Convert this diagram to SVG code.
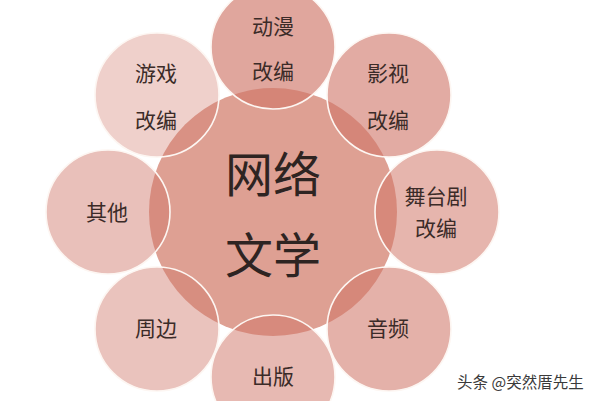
<svg xmlns="http://www.w3.org/2000/svg" width="590" height="401" viewBox="0 0 590 401">
  <style>
    .sat { fill: #d07668; stroke: #fdf6f2; stroke-width: 1.6; }
    .hub { fill: #dea093; }
    .lbl { font-family: "Noto Sans CJK SC", "Noto Sans", sans-serif; font-size: 21px; fill: #3b2b28; text-anchor: middle; }
    .big { font-family: "Noto Sans CJK SC", "Noto Sans", sans-serif; font-size: 48px; fill: #2e2422; text-anchor: middle; }
    .wm { font-family: "Noto Sans CJK SC", "Noto Sans", sans-serif; font-size: 15.5px; fill: #3a3a3a; }
  </style>
  <rect width="590" height="401" fill="#ffffff"/>

  <g id="center">
    <circle class="hub" cx="273" cy="212" r="124"/>
    <text class="big" x="273" y="192">网络</text>
    <text class="big" x="273" y="273">文学</text>
  </g>

  <g id="connectors"></g>

  <g id="dongman">
    <circle class="sat" cx="273" cy="47" r="62" fill-opacity="0.65"/>
    <text class="lbl" x="273" y="34">动漫</text>
    <text class="lbl" x="273" y="79">改编</text>
  </g>
  <g id="yingshi">
    <circle class="sat" cx="389" cy="95" r="62" fill-opacity="0.61"/>
    <text class="lbl" x="388" y="81">影视</text>
    <text class="lbl" x="388" y="128">改编</text>
  </g>
  <g id="wutaiju">
    <circle class="sat" cx="437" cy="212" r="62" fill-opacity="0.54"/>
    <text class="lbl" x="436" y="204">舞台剧</text>
    <text class="lbl" x="436" y="236">改编</text>
  </g>
  <g id="yinpin">
    <circle class="sat" cx="389" cy="329" r="62" fill-opacity="0.57"/>
    <text class="lbl" x="388" y="336">音频</text>
  </g>
  <g id="chuban">
    <circle class="sat" cx="273" cy="377" r="62" fill-opacity="0.51"/>
    <text class="lbl" x="273" y="384">出版</text>
  </g>
  <g id="zhoubian">
    <circle class="sat" cx="157" cy="329" r="62" fill-opacity="0.44"/>
    <text class="lbl" x="156" y="336">周边</text>
  </g>
  <g id="qita">
    <circle class="sat" cx="108" cy="212" r="62" fill-opacity="0.46"/>
    <text class="lbl" x="107" y="220">其他</text>
  </g>
  <g id="youxi">
    <circle class="sat" cx="157" cy="95" r="62" fill-opacity="0.34"/>
    <text class="lbl" x="156" y="81">游戏</text>
    <text class="lbl" x="156" y="128">改编</text>
  </g>

  <g id="watermark">
    <text class="wm" x="457" y="388">头条 @突然厝先生</text>
  </g>
</svg>
